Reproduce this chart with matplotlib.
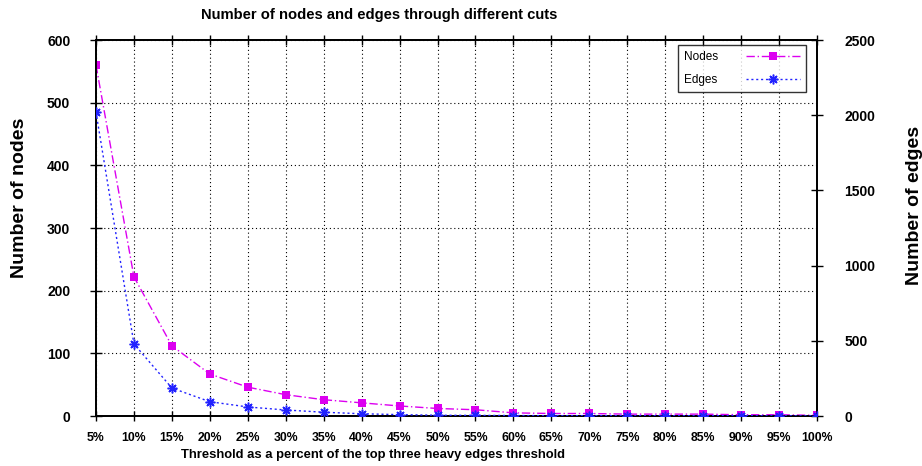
import matplotlib
matplotlib.use("Agg")
import matplotlib.pyplot as plt

plt.rcParams['font.family'] = ['Liberation Sans', 'DejaVu Sans']

thresholds = [5, 10, 15, 20, 25, 30, 35, 40, 45, 50, 55, 60, 65, 70, 75, 80, 85, 90, 95, 100]
tick_labels = [f"{t}%" for t in thresholds]
nodes = [560, 222, 112, 67, 46, 34, 26, 21, 16, 12, 10, 5, 4, 4, 3, 3, 3, 2, 2, 1]
edges = [2020, 479, 186, 95, 60, 40, 25, 15, 9, 5, 4, 3, 2, 2, 2, 2, 2, 2, 1, 1]

node_color = '#dc00f0'
edge_color = '#2222ff'

fig = plt.figure(figsize=(9.22, 4.66), dpi=100)
ax = fig.add_axes([96/922, 50/466, 721/922, 376/466])
ax2 = ax.twinx()

ln1, = ax.plot(thresholds, nodes, color=node_color, lw=1.0, dashes=(6, 2, 1, 2),
               marker='s', markersize=6, markeredgewidth=0, label='Nodes', zorder=3)
ln2, = ax2.plot(thresholds, edges, color=edge_color, lw=1.0, dashes=(1.5, 2),
                marker=(8, 2, 0), markersize=7, markeredgewidth=1.1, label='Edges', zorder=3)

ax.set_xlim(5, 100)
ax.set_ylim(0, 600)
ax2.set_ylim(0, 2500)
ax.set_xticks(thresholds)
ax.set_xticklabels(tick_labels)
ax.set_yticks(range(0, 601, 100))
ax2.set_yticks(range(0, 2501, 500))

ax.grid(True, color='black', linestyle=(0, (1, 2.5)), linewidth=0.8)
ax.set_axisbelow(True)

ax.tick_params(axis='x', direction='inout', length=7, width=1, top=True, labelsize=8.8, pad=8)
ax.tick_params(axis='y', direction='inout', length=9, width=1, right=False, labelsize=10, pad=14)
ax2.tick_params(axis='y', direction='inout', length=9, width=1, labelsize=10, pad=15)
for lab in ax.get_xticklabels() + ax.get_yticklabels() + ax2.get_yticklabels():
    lab.set_fontweight('bold')
for a in (ax, ax2):
    for s in a.spines.values():
        s.set_linewidth(1.3)

leg = ax2.legend([ln1, ln2], ['Nodes', 'Edges'], loc='upper right',
                 bbox_to_anchor=(0.985, 0.987), borderaxespad=0, markerfirst=False,
                 frameon=True, fancybox=False, edgecolor='black', fontsize=8.5,
                 handlelength=4.6, borderpad=0.5, labelspacing=0.95, handletextpad=2.4)
leg.get_frame().set_linewidth(1.0)

fig.text(379/922, 1 - 15/466, 'Number of nodes and edges through different cuts',
         ha='center', va='center', fontsize=10.6, fontweight='bold')
fig.text(373/922, 1 - 455/466, 'Threshold as a percent of the top three heavy edges threshold',
         ha='center', va='center', fontsize=9.4, fontweight='bold')
fig.text(19/922, 1 - 198/466, 'Number of nodes', rotation=90,
         ha='center', va='center', fontsize=14, fontweight='bold')
fig.text(914/922, 1 - 205/466, 'Number of edges', rotation=90,
         ha='center', va='center', fontsize=14, fontweight='bold')

fig.savefig('out.png', dpi=100)
